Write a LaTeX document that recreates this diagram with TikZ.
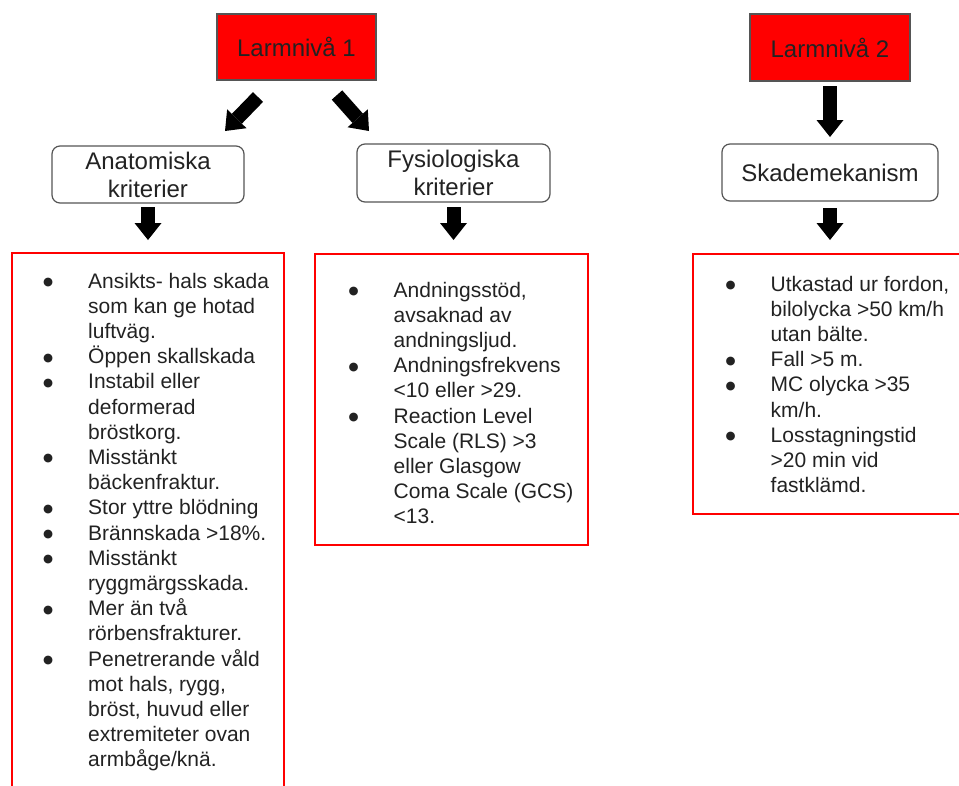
\documentclass[tikz,border=0pt]{standalone}
\usepackage{fontspec}
\setmainfont{Liberation Sans}
\newfontfamily\dejavu{DejaVu Sans}
\usetikzlibrary{arrows.meta,calc}
\definecolor{txt}{HTML}{222222}
\definecolor{edge}{HTML}{555555}
\newcommand\bul{\makebox[80pt]{\raisebox{2.6pt}{\fontsize{11.5}{12}\selectfont\dejavu ●}}}
\begin{document}
\begin{tikzpicture}[x=1pt,y=-1pt,
  lvl/.style={draw=edge, line width=1.2pt, fill=red, minimum width=159pt, minimum height=66pt, inner sep=0pt, outer sep=0pt, font=\fontsize{24}{28}\selectfont, text=txt},
  crit/.style={draw=edge, line width=1.2pt, rounded corners=8pt, fill=white, inner sep=0pt, outer sep=0pt, align=center, font=\fontsize{24}{28}\selectfont, text=txt},
  redbox/.style={draw=red, line width=2.8pt, inner sep=0pt, outer sep=0pt, anchor=north west},
  listtext/.style={anchor=base west, inner sep=0pt, font=\fontsize{21}{25.2}\selectfont, text=txt},
  barrow/.style={line width=14pt, draw=black, -{Triangle[width=27pt,length=17pt,line width=0pt]}}
]
\clip (0,0) rectangle (959,785);
\useasboundingbox (0,0) rectangle (959,785);

% top level boxes
\node[lvl] (l1) at (296.5,47) {Larmnivå 1};
\node[lvl, minimum width=160pt, minimum height=67pt] (l2) at (830,47.5) {Larmnivå 2};

% criteria boxes
\node[crit, minimum width=192pt, minimum height=57pt] (anat) at (148,174.5) {Anatomiska\\kriterier};
\node[crit, minimum width=193pt, minimum height=58pt] (fys) at (453.5,173) {Fysiologiska\\kriterier};
\node[crit, minimum width=216pt, minimum height=57pt] (skm) at (830,172.5) {Skademekanism};

% red list boxes
\node[redbox, minimum width=272pt, minimum height=560pt] (lbox) at (12,253) {};
\node[redbox, minimum width=273pt, minimum height=291pt] (mbox) at (315,254) {};
\node[redbox, minimum width=320pt, minimum height=260pt] (rbox) at (693,254) {};

% lists
\node[listtext] (llist) at (8,288) {\begin{tabular}[t]{@{}c@{}l@{}}
\bul & Ansikts- hals skada\\
     & som kan ge hotad\\
     & luftväg.\\
\bul & Öppen skallskada\\
\bul & Instabil eller\\
     & deformerad\\
     & bröstkorg.\\
\bul & Misstänkt\\
     & bäckenfraktur.\\
\bul & Stor yttre blödning\\
\bul & Brännskada >18\%.\\
\bul & Misstänkt\\
     & ryggmärgsskada.\\
\bul & Mer än två\\
     & rörbensfrakturer.\\
\bul & Penetrerande våld\\
     & mot hals, rygg,\\
     & bröst, huvud eller\\
     & extremiteter ovan\\
     & armbåge/knä.
\end{tabular}};

\node[listtext] (mlist) at (313.5,297) {\begin{tabular}[t]{@{}c@{}l@{}}
\bul & Andningsstöd,\\
     & avsaknad av\\
     & andningsljud.\\
\bul & Andningsfrekvens\\
     & <10 eller >29.\\
\bul & Reaction Level\\
     & Scale (RLS) >3\\
     & eller Glasgow\\
     & Coma Scale (GCS)\\
     & <13.
\end{tabular}};

\node[listtext] (rlist) at (690.5,291) {\begin{tabular}[t]{@{}c@{}l@{}}
\bul & Utkastad ur fordon,\\
     & bilolycka >50 km/h\\
     & utan bälte.\\
\bul & Fall >5 m.\\
\bul & MC olycka >35\\
     & km/h.\\
\bul & Losstagningstid\\
     & >20 min vid\\
     & fastklämd.
\end{tabular}};

% arrows
\coordinate (a1s) at (258,97);
\coordinate (a1e) at (225,131);
\coordinate (a2s) at (337,95);
\coordinate (a2e) at (369,131);
\draw[barrow] (a1s) -- (a1e);
\draw[barrow] (a2s) -- (a2e);
\draw[barrow, shorten <=5pt, shorten >=7pt] (l2.south) -- (skm.north);
\draw[barrow, shorten <=7pt, shorten >=14pt] (skm.south) -- (skm.south |- rbox.north);
\draw[barrow, shorten <=4pt, shorten >=13pt] (anat.south) -- (anat.south |- lbox.north);
\draw[barrow, shorten <=5pt, shorten >=14pt] (fys.south) -- (fys.south |- mbox.north);
\end{tikzpicture}
\end{document}
